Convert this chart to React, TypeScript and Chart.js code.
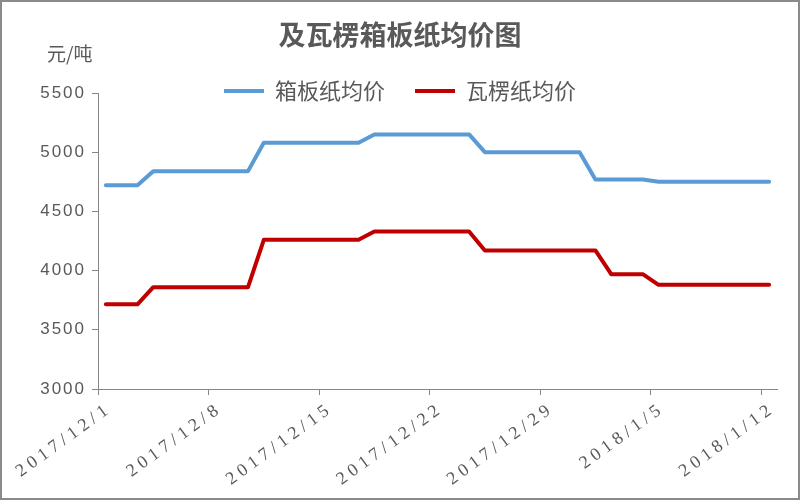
import React, { useEffect, useRef } from "react";
import { Chart, registerables } from "chart.js";

Chart.register(...registerables);

const TITLE = "及瓦楞箱板纸均价图";
const UNIT = "元/吨";
const SERIES_NAMES = ["箱板纸均价", "瓦楞纸均价"];

const dates = [
  "2017/12/1", "2017/12/2", "2017/12/3", "2017/12/4", "2017/12/5", "2017/12/6", "2017/12/7",
  "2017/12/8", "2017/12/9", "2017/12/10", "2017/12/11", "2017/12/12", "2017/12/13", "2017/12/14",
  "2017/12/15", "2017/12/16", "2017/12/17", "2017/12/18", "2017/12/19", "2017/12/20", "2017/12/21",
  "2017/12/22", "2017/12/23", "2017/12/24", "2017/12/25", "2017/12/26", "2017/12/27", "2017/12/28",
  "2017/12/29", "2017/12/30", "2017/12/31", "2018/1/1", "2018/1/2", "2018/1/3", "2018/1/4",
  "2018/1/5", "2018/1/6", "2018/1/7", "2018/1/8", "2018/1/9", "2018/1/10", "2018/1/11",
  "2018/1/12",
];

const labelledDates = [
  "2017/12/1", "2017/12/8", "2017/12/15", "2017/12/22", "2017/12/29", "2018/1/5", "2018/1/12",
];

// 箱板纸均价
const boxboardPrice = [
  4720, 4720, 4720, 4840, 4840, 4840, 4840,
  4840, 4840, 4840, 5080, 5080, 5080, 5080,
  5080, 5080, 5080, 5150, 5150, 5150, 5150,
  5150, 5150, 5150, 5000, 5000, 5000, 5000,
  5000, 5000, 5000, 4770, 4770, 4770, 4770,
  4750, 4750, 4750, 4750, 4750, 4750, 4750,
  4750,
];

// 瓦楞纸均价
const corrugatedPrice = [
  3715, 3715, 3715, 3860, 3860, 3860, 3860,
  3860, 3860, 3860, 4260, 4260, 4260, 4260,
  4260, 4260, 4260, 4330, 4330, 4330, 4330,
  4330, 4330, 4330, 4170, 4170, 4170, 4170,
  4170, 4170, 4170, 4170, 3970, 3970, 3970,
  3880, 3880, 3880, 3880, 3880, 3880, 3880,
  3880,
];

const Y_MIN = 3000;
const Y_MAX = 5500;
const Y_STEP = 500;

const BLUE = "#5B9BD5";
const RED = "#C00000";
const AXIS = "#868686";
const TEXT = "#595959";
const CJK = '"Noto Sans CJK SC", "Noto Sans", sans-serif';

// Legend takes no layout space (it overlaps the plot top as in the reference);
// title and legend are centred over the full canvas width.
const headerPlacement = {
  id: "headerPlacement",
  beforeLayout(chart: any) {
    const lg = chart.legend;
    if (lg && !lg._zeroFit) {
      const origFit = lg.fit;
      lg.fit = function () {
        origFit.call(this);
        this._realHeight = this.height;
        this.height = 0;
      };
      lg._zeroFit = true;
    }
  },
  afterLayout(chart: any) {
    const lg = chart.legend;
    if (lg) {
      lg.left = 0;
      lg.right = chart.width;
      lg.width = chart.width;
      lg.top = chart.chartArea.top - 43;
      lg.bottom = lg.top + (lg._realHeight || 0);
    }
    const tb = chart.titleBlock;
    if (tb) {
      tb.left = 0;
      tb.right = chart.width;
      tb.width = chart.width;
    }
  },
};

const unitLabel = {
  id: "unitLabel",
  afterDraw(chart: any) {
    const { ctx, chartArea } = chart;
    ctx.save();
    ctx.font = `19px ${CJK}`;
    ctx.fillStyle = TEXT;
    ctx.textAlign = "left";
    ctx.textBaseline = "middle";
    ctx.fillText(UNIT, chartArea.left - 51, chartArea.top - 39);
    ctx.restore();
  },
};

const spacedTicks = {
  id: "spacedTicks",
  beforeDraw(chart: any) {
    const conf: [string, string][] = [["x", "4.5px"], ["y", "2px"]];
    for (const [id, sp] of conf) {
      const s = chart.scales[id];
      if (!s || s._spaced) continue;
      const orig = s.drawLabels;
      s.drawLabels = function (area: any) {
        const c = this.ctx;
        const prev = c.letterSpacing;
        c.letterSpacing = sp;
        orig.call(this, area);
        c.letterSpacing = prev || "0px";
      };
      s._spaced = true;
    }
  },
};

export default function App() {
  const ref = useRef<HTMLCanvasElement>(null);

  useEffect(() => {
    if (!ref.current) return;
    const chart = new Chart(ref.current, {
      type: "line",
      data: {
        labels: dates,
        datasets: [
          {
            label: SERIES_NAMES[0],
            data: boxboardPrice,
            borderColor: BLUE,
            backgroundColor: BLUE,
            borderWidth: 4,
            pointRadius: 0,
            tension: 0,
            fill: false,
            borderJoinStyle: "round",
            borderCapStyle: "round",
          },
          {
            label: SERIES_NAMES[1],
            data: corrugatedPrice,
            borderColor: RED,
            backgroundColor: RED,
            borderWidth: 4,
            pointRadius: 0,
            tension: 0,
            fill: false,
            borderJoinStyle: "round",
            borderCapStyle: "round",
          },
        ],
      },
      options: {
        animation: false,
        responsive: false,
        devicePixelRatio: 1,
        events: [],
        layout: { padding: { left: 0, right: 21, top: 0, bottom: 0 } },
        plugins: {
          title: {
            display: true,
            text: TITLE,
            color: TEXT,
            font: { family: CJK, size: 27, weight: "bold" },
            padding: { top: 17, bottom: 41.6 },
          },
          legend: {
            display: true,
            position: "top",
            align: "center",
            labels: {
              usePointStyle: true,
              pointStyle: "line",
              pointStyleWidth: 40,
              color: TEXT,
              font: { family: CJK, size: 22 },
              padding: 30,
            },
          },
          tooltip: { enabled: false },
        },
        scales: {
          x: {
            type: "category",
            offset: true,
            grid: {
              offset: true,
              drawOnChartArea: false,
              drawTicks: true,
              tickLength: 6,
              color: AXIS,
              tickColor: (c: any) =>
                c.type === "tick" && labelledDates.includes(dates[c.index]) ? AXIS : "rgba(0,0,0,0)",
            },
            border: { display: true, color: AXIS, width: 1 },
            ticks: {
              autoSkip: false,
              minRotation: 36,
              maxRotation: 36,
              padding: 3,
              labelOffset: 4,
              color: TEXT,
              font: { family: '"Liberation Serif", serif', size: 18 },
              callback: (_v: any, i: number) => (labelledDates.includes(dates[i]) ? dates[i] : ""),
            },
            afterFit: (s: any) => {
              s.height = 109;
            },
          },
          y: {
            min: Y_MIN,
            max: Y_MAX,
            grid: {
              drawOnChartArea: false,
              drawTicks: true,
              tickLength: 6,
              color: AXIS,
            },
            border: { display: true, color: AXIS, width: 1 },
            ticks: {
              stepSize: Y_STEP,
              padding: 6,
              color: TEXT,
              font: { family: '"Liberation Sans", sans-serif', size: 17 },
              callback: (v: any) => String(v),
            },
            afterFit: (s: any) => {
              s.width = 96;
            },
          },
        },
      },
      plugins: [headerPlacement, unitLabel, spacedTicks],
    } as any);
    return () => chart.destroy();
  }, []);

  return (
    <div
      style={{
        position: "absolute",
        left: 0,
        top: 0,
        width: 800,
        height: 500,
        boxSizing: "border-box",
        border: "2px solid #8a8a8a",
        background: "#ffffff",
      }}
    >
      <canvas ref={ref} width={796} height={496} style={{ display: "block" }} />
    </div>
  );
}
